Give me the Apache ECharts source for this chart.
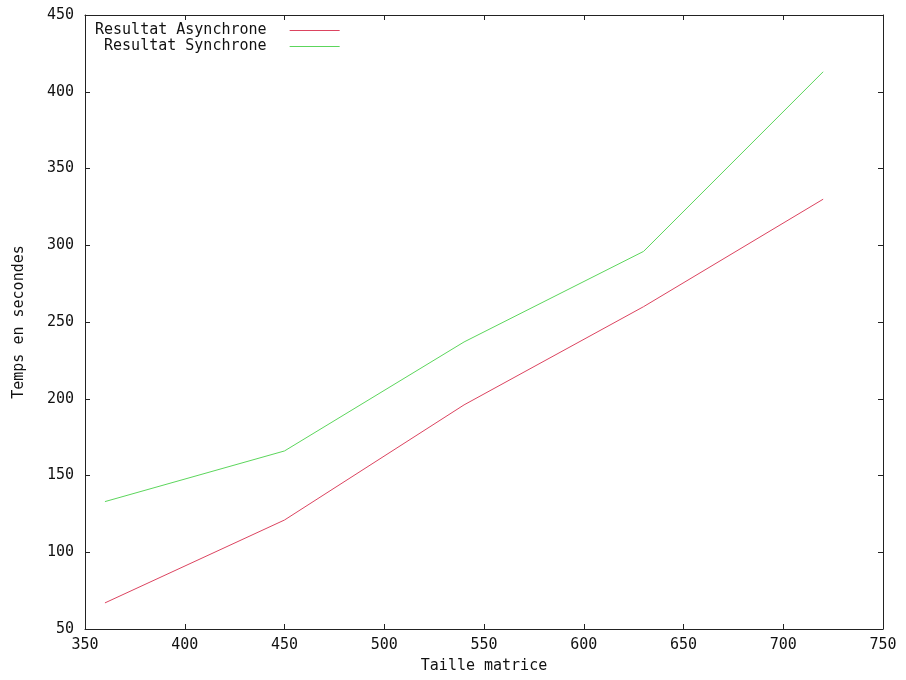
<!DOCTYPE html>
<html>
<head>
<meta charset="utf-8">
<script src="https://cdn.jsdelivr.net/npm/echarts@6/dist/echarts.min.js"></script>
<style>
  html, body { margin: 0; padding: 0; background: #fff; }
  #chart { width: 906px; height: 680px; }
</style>
</head>
<body>
<div id="chart"></div>
<script>
// matrix size vs time (seconds)
const sizes = [360, 450, 540, 630, 720]
const asyncTimes = [67, 121, 196, 260, 330]
const syncTimes = [133, 166, 237, 296, 413]
const seriesNames = ['Resultat Asynchrone', 'Resultat Synchrone']

const font = 'DejaVu Sans Mono'
const fs = 15
const axisLine = { lineStyle: { color: '#222', width: 1 } }
const tick = { inside: true, length: 5, lineStyle: { color: '#222' } }

const chart = echarts.init(document.getElementById('chart'))
const padLen = Math.max(...seriesNames.map((n) => n.length))

chart.setOption({
  backgroundColor: '#fff',
  animation: false,
  grid: { left: 85, right: 23, top: 15, bottom: 51, outerBoundsMode: 'none', containLabel: false },
  legend: {
    left: 95,
    top: 23,
    padding: 0,
    orient: 'vertical',
    align: 'right',
    icon: 'rect',
    itemWidth: 50,
    itemHeight: 1,
    itemGap: 1,
    data: seriesNames,
    // right-align the names like gnuplot's key, leave room before the sample line
    formatter: (name) => name.padStart(padLen, ' ') + '  ',
    textStyle: { fontFamily: font, fontSize: fs, color: '#111' },
  },
  xAxis: [
    {
      type: 'value',
      min: 350,
      max: 750,
      interval: 50,
      name: 'Taille matrice',
      nameLocation: 'middle',
      nameGap: 30,
      nameTextStyle: { fontFamily: font, fontSize: fs, color: '#111' },
      axisLine,
      axisTick: tick,
      axisLabel: { fontFamily: font, fontSize: fs, color: '#111', margin: 9 },
      splitLine: { show: false },
    },
    {
      type: 'value',
      position: 'top',
      min: 350,
      max: 750,
      interval: 50,
      axisLine,
      axisTick: tick,
      axisLabel: { show: false },
      splitLine: { show: false },
    },
  ],
  yAxis: [
    {
      type: 'value',
      min: 50,
      max: 450,
      interval: 50,
      name: 'Temps en secondes',
      nameLocation: 'middle',
      nameGap: 58,
      nameTextStyle: { fontFamily: font, fontSize: fs, color: '#111' },
      axisLine,
      axisTick: tick,
      axisLabel: { fontFamily: font, fontSize: fs, color: '#111', margin: 11 },
      splitLine: { show: false },
    },
    {
      type: 'value',
      position: 'right',
      min: 50,
      max: 450,
      interval: 50,
      axisLine,
      axisTick: tick,
      axisLabel: { show: false },
      splitLine: { show: false },
    },
  ],
  series: [
    {
      name: seriesNames[0],
      type: 'line',
      symbol: 'none',
      data: sizes.map((s, i) => [s, asyncTimes[i]]),
      lineStyle: { color: '#dc4460', width: 1 },
      itemStyle: { color: '#dc4460' },
    },
    {
      name: seriesNames[1],
      type: 'line',
      symbol: 'none',
      data: sizes.map((s, i) => [s, syncTimes[i]]),
      lineStyle: { color: '#5cd65c', width: 1 },
      itemStyle: { color: '#5cd65c' },
    },
  ],
})
</script>
</body>
</html>
